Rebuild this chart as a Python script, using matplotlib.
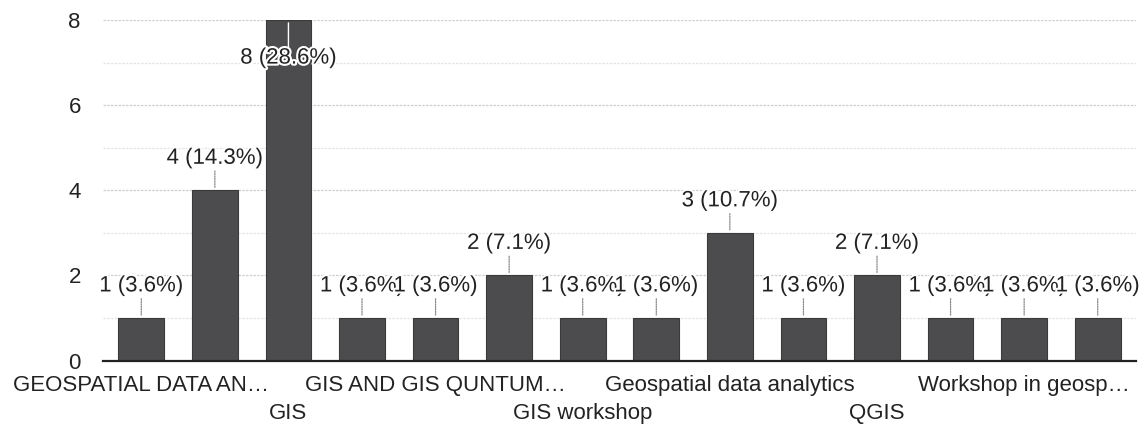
import numpy as np
import matplotlib
matplotlib.use("Agg")
from matplotlib import pyplot as plt
import matplotlib.patheffects as pe

# responses per answer (28 in total)
counts = [1, 4, 8, 1, 1, 2, 1, 1, 3, 1, 2, 1, 1, 1]
# only every second category name is printed on the axis
shown_labels = ["GEOSPATIAL DATA AN\u2026", "GIS", "GIS AND GIS QUNTUM\u2026",
                "GIS workshop", "Geospatial data analytics", "QGIS",
                "Workshop in geosp\u2026"]
shown_at = [0, 2, 4, 6, 8, 10, 12]
y_ticks = [0, 2, 4, 6, 8]

plt.rcParams['font.family'] = ['Liberation Sans', 'DejaVu Sans']
FS = 16
TXT = '#222222'
BAR = '#4c4c4e'

fig = plt.figure(figsize=(11.41, 4.32), dpi=100)
ax = fig.add_axes([0.0903, 0.1655, 0.9053, 0.788])

x = np.arange(len(counts))
total = sum(counts)
ax.bar(x, counts, width=0.62, color=BAR, edgecolor='#3a3a3a', linewidth=0.8, zorder=3)

ax.set_xlim(-0.52, len(counts) - 0.48)
ax.set_ylim(0, 8)

# grid lines at every integer, darker at labelled ticks
for v in range(1, 9):
    c = '#cfcfcf' if v % 2 == 0 else '#e4e4e4'
    ax.axhline(v, color=c, lw=0.9, ls=(0, (2, 1)), zorder=1)

for s in ['left', 'right', 'top']:
    ax.spines[s].set_visible(False)
ax.spines['bottom'].set_color('#222222')
ax.spines['bottom'].set_linewidth(1.6)
ax.spines['bottom'].set_zorder(4)

ax.set_yticks(y_ticks)
ax.set_yticklabels([str(t) for t in y_ticks], fontsize=FS, color=TXT)
ax.tick_params(axis='y', length=0, pad=16)
ax.set_xticks([])

# staggered category labels
tr = ax.get_xaxis_transform()
for k, (i, lab) in enumerate(zip(shown_at, shown_labels)):
    dy = -25 if k % 2 == 0 else -53
    ax.annotate(lab, xy=(i, 0), xycoords=tr, xytext=(0, dy * 0.72),
                textcoords='offset points', ha='center', va='center',
                fontsize=FS, color=TXT, annotation_clip=False)

# value labels with short leader lines
halo = [pe.withStroke(linewidth=3, foreground='white')]
ymax = max(counts)
for i, v in enumerate(counts):
    lab = f"{v} ({v / total * 100:.1f}%)"
    if v == ymax:
        ax.annotate('', xy=(i, v), xytext=(0, -34 * 0.72), textcoords='offset points',
                    arrowprops=dict(arrowstyle='-', color='white', lw=1.0), zorder=5)
        ax.annotate(lab, xy=(i, v), xytext=(0, -38 * 0.72), textcoords='offset points',
                    ha='center', va='center', fontsize=FS, color=TXT,
                    path_effects=halo, zorder=6)
    else:
        ax.annotate('', xy=(i, v), xytext=(0, 22 * 0.72), textcoords='offset points',
                    arrowprops=dict(arrowstyle='-', color='#888888', lw=0.9,
                                    linestyle=(0, (1, 1))), zorder=5)
        ax.annotate(lab, xy=(i, v), xytext=(0, 32 * 0.72), textcoords='offset points',
                    ha='center', va='center', fontsize=FS, color=TXT,
                    path_effects=halo, zorder=6)

fig.savefig('out.png', dpi=100)
